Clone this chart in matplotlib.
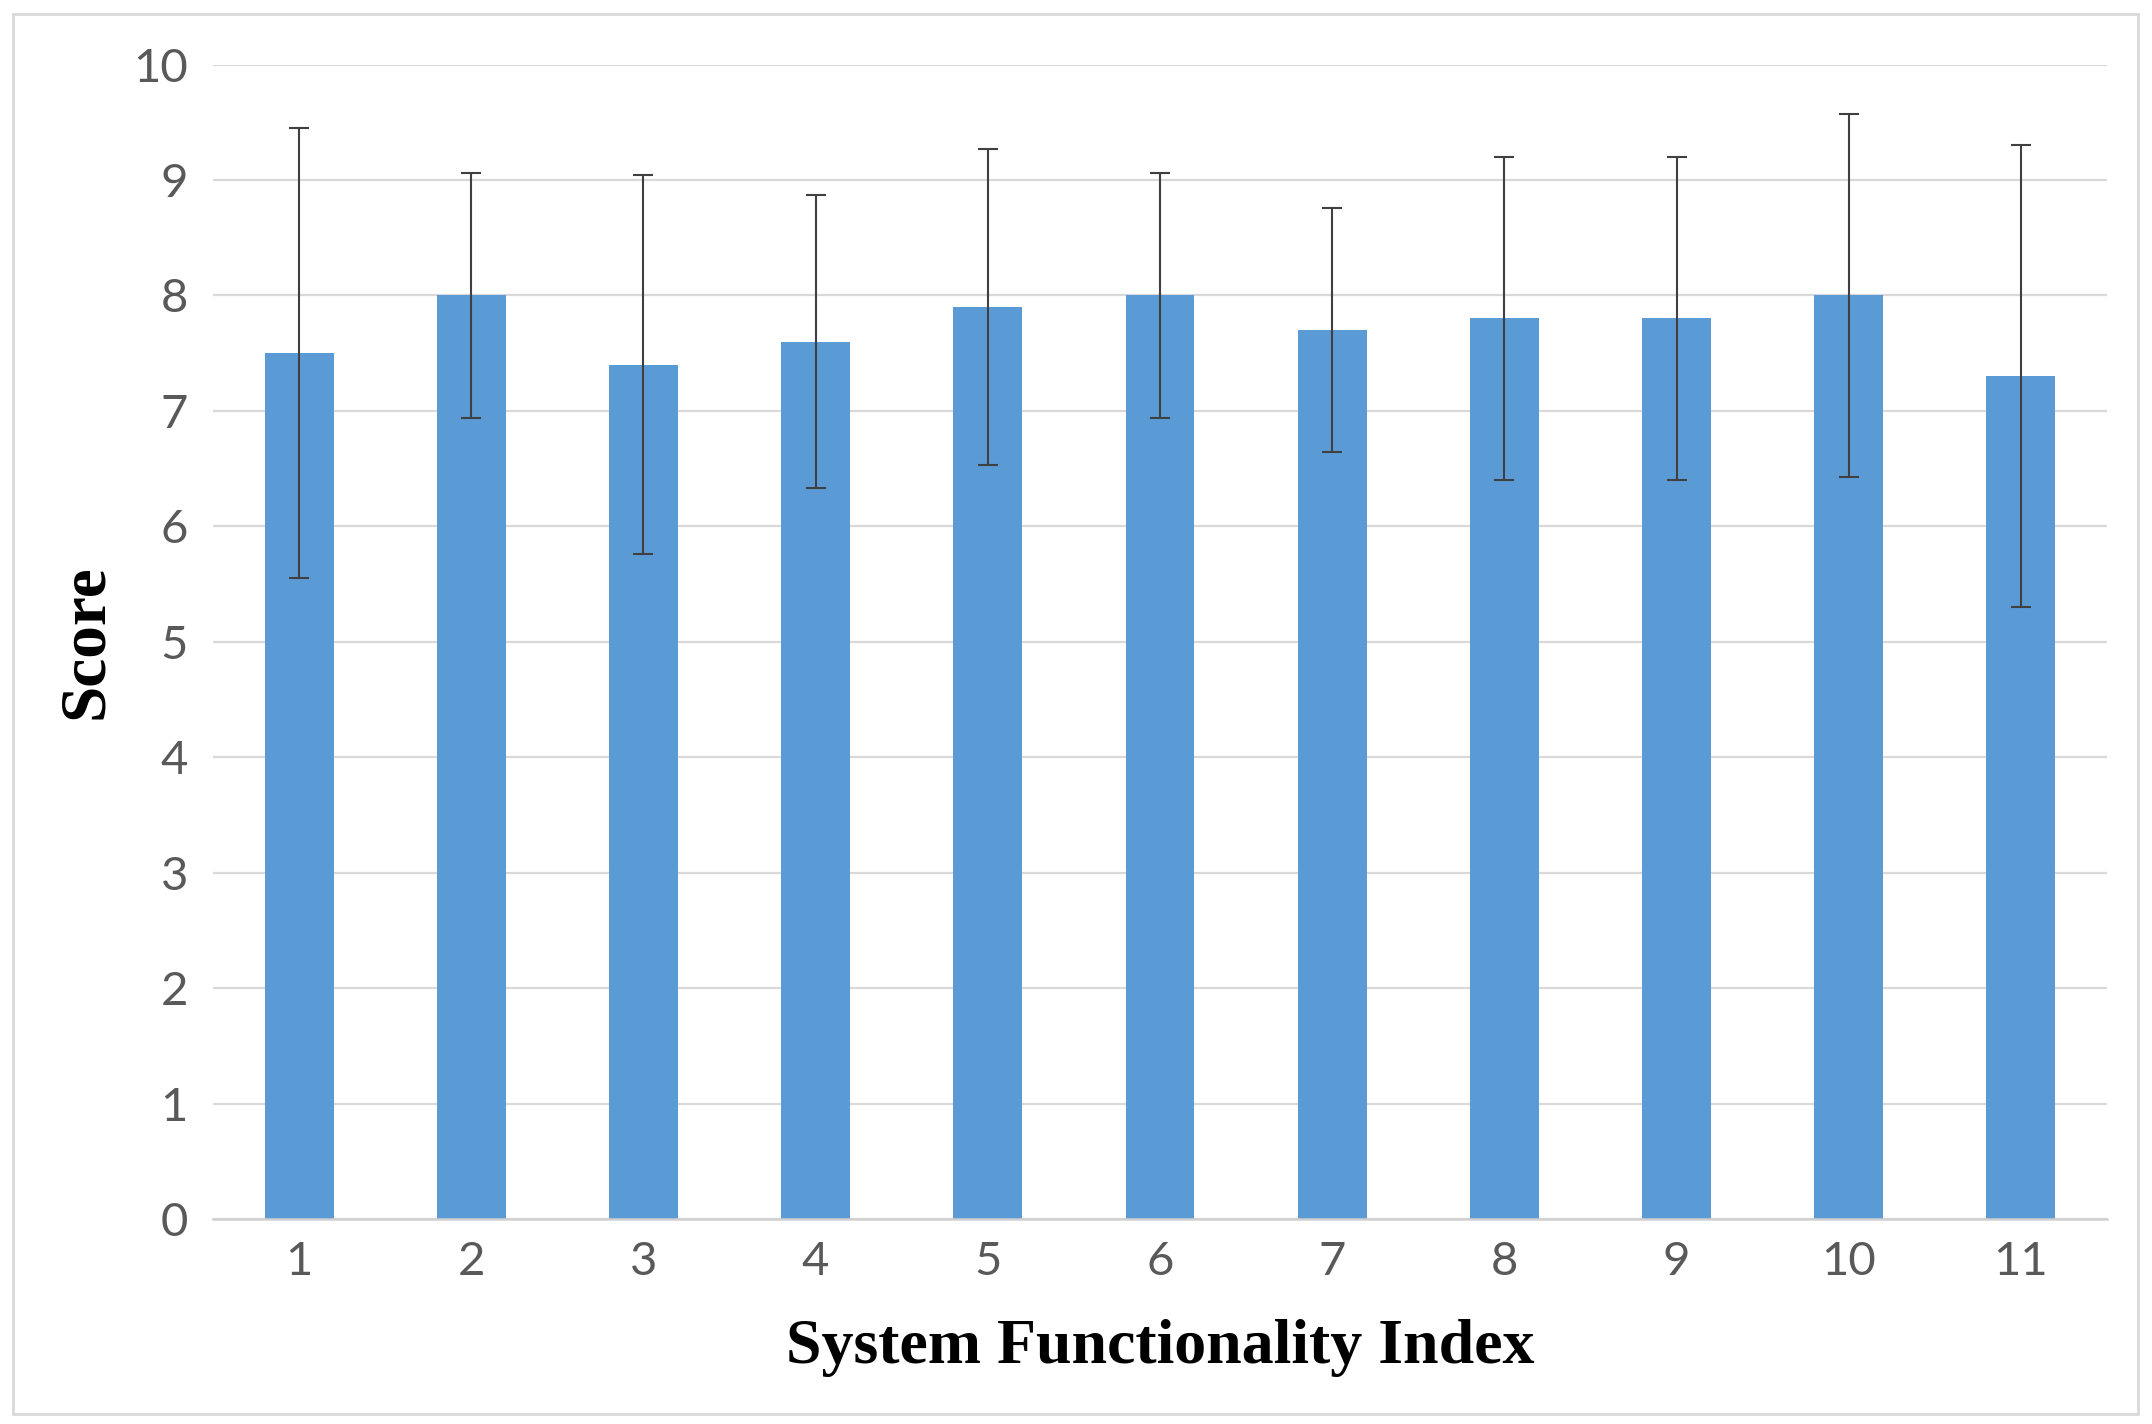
import matplotlib
matplotlib.use("Agg")
import matplotlib.pyplot as plt
from matplotlib.patches import Rectangle

categories = ["1", "2", "3", "4", "5", "6", "7", "8", "9", "10", "11"]
scores = [7.5, 8.0, 7.4, 7.6, 7.9, 8.0, 7.7, 7.8, 7.8, 8.0, 7.3]
errors = [1.95, 1.06, 1.64, 1.27, 1.37, 1.06, 1.06, 1.40, 1.40, 1.57, 2.00]
yticks = [0, 1, 2, 3, 4, 5, 6, 7, 8, 9, 10]

fig = plt.figure(figsize=(21.52, 14.24), dpi=100)
ax = fig.add_axes([213/2152, 1 - 1219/1424, (2107-213)/2152, (1219-64.5)/1424])

x = list(range(1, len(categories) + 1))
ax.bar(x, scores, width=0.4, color="#5B9BD5", zorder=2)
ax.errorbar(x, scores, yerr=errors, fmt="none", ecolor="#404040",
            elinewidth=1.5, capsize=7, capthick=1.5, zorder=3)

ax.set_xlim(0.5, 11.5)
ax.set_ylim(0, 10)
ax.set_yticks(yticks)
ax.set_xticks(x)
ax.set_xticklabels(categories)
ax.yaxis.grid(True, color="#D9D9D9", linewidth=1.6, zorder=0)
ax.set_axisbelow(True)
for s in ["top", "right", "left"]:
    ax.spines[s].set_visible(False)
ax.spines["bottom"].set_color("#D0D0D0")
ax.spines["bottom"].set_linewidth(1.8)
ax.tick_params(axis="both", length=0, labelsize=34, labelcolor="#595959")
ax.tick_params(axis="y", pad=18)
ax.tick_params(axis="x", pad=16)
for lbl in ax.get_xticklabels() + ax.get_yticklabels():
    lbl.set_fontfamily("Lato")

ax.set_xlabel("System Functionality Index", fontsize=46, fontweight="bold",
              family="Liberation Serif", color="black", va="center")
ax.xaxis.set_label_coords(0.5, (1219 - 1348) / (1219 - 64.5), transform=ax.transAxes)
ax.set_ylabel("Score", fontsize=47, fontweight="bold",
              family="Liberation Serif", color="black", va="center")
ax.yaxis.set_label_coords((86 - 213) / (2107 - 213), 0.5, transform=ax.transAxes)

fig.patches.append(Rectangle((13/2152, 1 - 1414/1424), (2138-13)/2152, (1414-14)/1424,
                             transform=fig.transFigure, fill=False,
                             edgecolor="#D9D9D9", linewidth=2))

fig.savefig("out.png", dpi=100)
